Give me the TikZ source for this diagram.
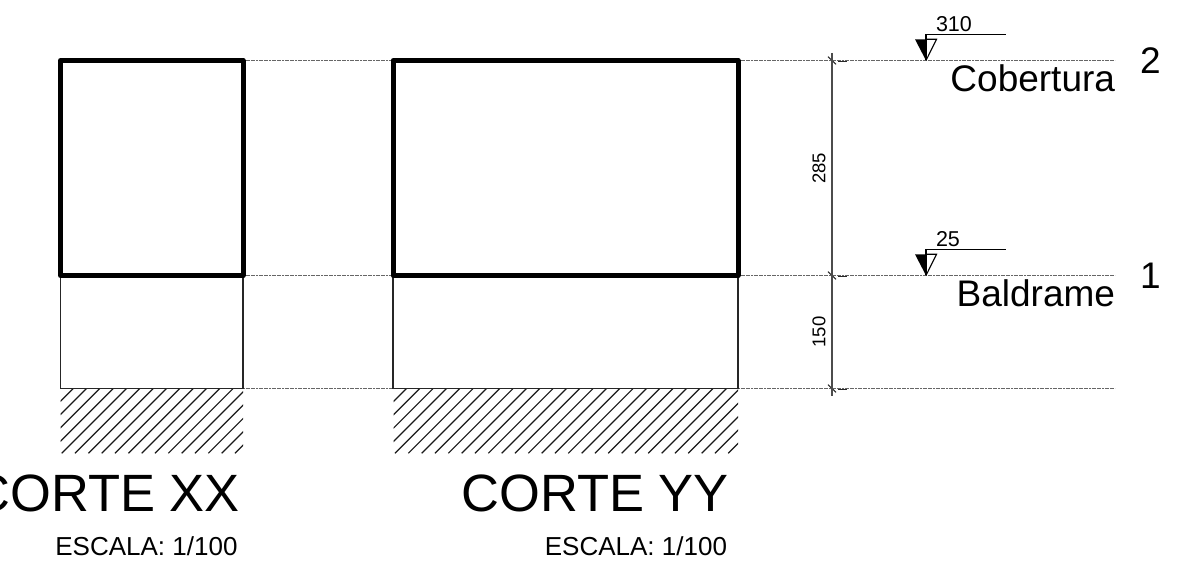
\documentclass[tikz,border=0pt]{standalone}
\usepackage{fontspec}
\setmainfont{Liberation Sans}
\tikzset{
  thick wall/.style={line width=5pt,line cap=round,line join=round,draw=black},
  thin wall/.style={line width=1.3pt,draw=black!85},
  level line/.style={line width=1.7pt,draw=black!60,dash pattern=on 2pt off 0.6pt},
  dim line/.style={line width=1.2pt,draw=black!70},
  tick/.style={line width=1pt,draw=black!85},
  hatch line/.style={line width=1.2pt,draw=black!90},
  label/.style={inner sep=0pt,outer sep=0pt,text=black},
}
\newcommand{\ftxt}[2]{\fontsize{#1}{#1}\selectfont #2}
\begin{document}
\begin{tikzpicture}[x=1pt,y=-1pt]
\useasboundingbox (0,0) rectangle (1177,585);
% level lines
\foreach \yy in {60.5,275.5,388.5}{
  \draw[level line] (243,\yy) -- (393,\yy);
  \draw[level line] (738,\yy) -- (1115,\yy);
  \draw[tick] (828,\yy-3.8) -- (836,\yy+3.8);
  \draw[line width=1.4pt,draw=black!85] (838,\yy+0.8) -- (847,\yy+0.8);
}
% dimension line
\draw[dim line] (832,53) -- (832,396);
% lower walls
\draw[thin wall] (60.5,275.5) rectangle (243,388.5);
\draw[thin wall] (393,275.5) rectangle (738,388.5);
% upper walls
\draw[thick wall] (60.5,60.5) rectangle (243,275.5);
\draw[thick wall] (393,60.5) rectangle (738,275.5);
% hatching
\begin{scope}
  \clip (60.5,389) rectangle (243,453.3);
  \foreach \k in {-5,...,14}{
    \draw[hatch line] ({61.7+13.33*\k},453.3) -- ++(70,-70);
  }
\end{scope}
\begin{scope}
  \clip (393.5,389) rectangle (738,453.3);
  \foreach \k in {-5,...,30}{
    \draw[hatch line] ({395+13.33*\k},453.3) -- ++(70,-70);
  }
\end{scope}
% level markers
\foreach \dy in {0,215}{
  \fill[black] (915,39.3+\dy) -- (926,39.3+\dy) -- (926,60.5+\dy) -- cycle;
  \draw[line width=1.1pt,draw=black,line join=miter] (926,39.3+\dy) -- (936.5,39.3+\dy) -- (926,60.5+\dy);
  \draw[line width=1.1pt,draw=black] (926,60+\dy) -- (926,34.3+\dy) -- (1006,34.3+\dy);
}
% texts
\node[label,anchor=base west] (l310) at (936,32) {\ftxt{21.5}{310}};
\node[label,anchor=base west] (l25) at (936,247) {\ftxt{21.5}{25}};
\node[label,anchor=base east] (cob) at (1115,91.5) {\ftxt{37}{Cobertura}};
\node[label,anchor=base east] (bal) at (1115,306.5) {\ftxt{37}{Baldrame}};
\node[label,anchor=base west] (n2) at (1140,73.3) {\ftxt{37}{2}};
\node[label,anchor=base west] (n1) at (1140,288.3) {\ftxt{37}{1}};
\node[label,rotate=90] (d285) at (819,168.5) {\ftxt{18.5}{285}};
\node[label,rotate=90] (d150) at (819,332) {\ftxt{18.5}{150}};
\node[label,anchor=base east] (cxx) at (240,511.5) {\ftxt{52.5}{CORTE XX}};
\node[label,anchor=base east] (cyy) at (729,511.5) {\ftxt{52.5}{CORTE YY}};
\node[label,anchor=base east] (exx) at (237.5,555) {\ftxt{26}{ESCALA: 1/100}};
\node[label,anchor=base east] (eyy) at (727,555) {\ftxt{26}{ESCALA: 1/100}};
\end{tikzpicture}
\end{document}
